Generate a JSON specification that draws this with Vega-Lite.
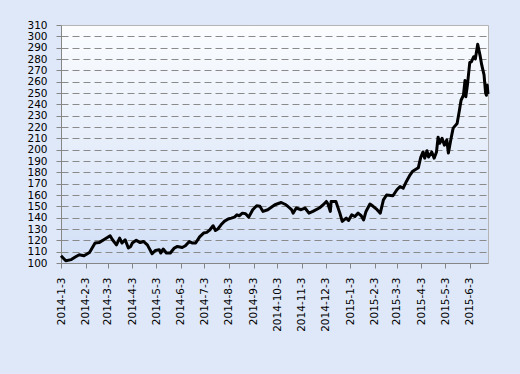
{
  "$schema": "https://vega.github.io/schema/vega-lite/v6.json",
  "width": 427,
  "height": 238,
  "autosize": "none",
  "padding": {"left": 61, "top": 25, "right": 32, "bottom": 111},
  "background": "#dfe8f9",
  "config": {
    "view": {
      "stroke": "#b4b4b4",
      "strokeWidth": 1,
      "fill": {"gradient": "linear", "x1": 0, "y1": 0, "x2": 0, "y2": 1, "stops": [{"offset": 0, "color": "#fbfdff"}, {"offset": 1, "color": "#d2dff6"}]}
    },
    "font": "DejaVu Sans"
  },
  "data": {
    "values": [
      {"d": "2014-01-03", "v": 106.4}, {"d": "2014-01-09", "v": 102}, {"d": "2014-01-16", "v": 103}, {"d": "2014-01-21", "v": 105.3},
      {"d": "2014-01-26", "v": 107.3}, {"d": "2014-02-01", "v": 106.4}, {"d": "2014-02-08", "v": 109.3}, {"d": "2014-02-15", "v": 117.6},
      {"d": "2014-02-20", "v": 118}, {"d": "2014-02-27", "v": 121}, {"d": "2014-03-06", "v": 124}, {"d": "2014-03-09", "v": 120.5},
      {"d": "2014-03-14", "v": 116}, {"d": "2014-03-18", "v": 122}, {"d": "2014-03-21", "v": 117.6}, {"d": "2014-03-25", "v": 120.5},
      {"d": "2014-03-29", "v": 113.2}, {"d": "2014-04-01", "v": 114.6}, {"d": "2014-04-03", "v": 117.6}, {"d": "2014-04-08", "v": 120},
      {"d": "2014-04-13", "v": 118}, {"d": "2014-04-17", "v": 119}, {"d": "2014-04-22", "v": 116}, {"d": "2014-04-28", "v": 108.2},
      {"d": "2014-05-02", "v": 111}, {"d": "2014-05-07", "v": 111.7}, {"d": "2014-05-09", "v": 108.8}, {"d": "2014-05-12", "v": 112.3},
      {"d": "2014-05-16", "v": 108.8}, {"d": "2014-05-21", "v": 108.8}, {"d": "2014-05-26", "v": 113.2}, {"d": "2014-05-30", "v": 114.6},
      {"d": "2014-06-05", "v": 113.7}, {"d": "2014-06-09", "v": 115.2}, {"d": "2014-06-14", "v": 119}, {"d": "2014-06-18", "v": 117.6},
      {"d": "2014-06-22", "v": 117.6}, {"d": "2014-06-27", "v": 123}, {"d": "2014-07-02", "v": 126.4}, {"d": "2014-07-06", "v": 127},
      {"d": "2014-07-10", "v": 129.3}, {"d": "2014-07-14", "v": 132.9}, {"d": "2014-07-17", "v": 128.7}, {"d": "2014-07-20", "v": 130},
      {"d": "2014-07-24", "v": 133.7}, {"d": "2014-07-28", "v": 136.7}, {"d": "2014-08-02", "v": 138.8}, {"d": "2014-08-06", "v": 139.6},
      {"d": "2014-08-10", "v": 140.5}, {"d": "2014-08-13", "v": 142.5}, {"d": "2014-08-16", "v": 141.7}, {"d": "2014-08-20", "v": 144},
      {"d": "2014-08-24", "v": 143.4}, {"d": "2014-08-28", "v": 140.5}, {"d": "2014-09-02", "v": 147}, {"d": "2014-09-07", "v": 150.5},
      {"d": "2014-09-11", "v": 150}, {"d": "2014-09-15", "v": 145.5}, {"d": "2014-09-21", "v": 147}, {"d": "2014-09-30", "v": 151.4},
      {"d": "2014-10-08", "v": 153.4}, {"d": "2014-10-14", "v": 151.4}, {"d": "2014-10-21", "v": 147}, {"d": "2014-10-23", "v": 144},
      {"d": "2014-10-27", "v": 148.5}, {"d": "2014-11-02", "v": 147}, {"d": "2014-11-07", "v": 148.5}, {"d": "2014-11-12", "v": 144},
      {"d": "2014-11-17", "v": 145.5}, {"d": "2014-11-25", "v": 148.5}, {"d": "2014-11-30", "v": 151.4}, {"d": "2014-12-04", "v": 154.3},
      {"d": "2014-12-06", "v": 152}, {"d": "2014-12-09", "v": 145.5}, {"d": "2014-12-10", "v": 154.3}, {"d": "2014-12-16", "v": 154.3},
      {"d": "2014-12-21", "v": 144}, {"d": "2014-12-24", "v": 136.7}, {"d": "2014-12-29", "v": 139.6}, {"d": "2015-01-01", "v": 137.5},
      {"d": "2015-01-05", "v": 142.5}, {"d": "2015-01-09", "v": 141}, {"d": "2015-01-13", "v": 144}, {"d": "2015-01-17", "v": 141.7},
      {"d": "2015-01-20", "v": 138}, {"d": "2015-01-23", "v": 145.5}, {"d": "2015-01-28", "v": 152}, {"d": "2015-02-01", "v": 150},
      {"d": "2015-02-06", "v": 147}, {"d": "2015-02-10", "v": 144}, {"d": "2015-02-14", "v": 155.7}, {"d": "2015-02-18", "v": 160},
      {"d": "2015-02-26", "v": 159.3}, {"d": "2015-03-03", "v": 164.6}, {"d": "2015-03-07", "v": 167.5}, {"d": "2015-03-11", "v": 166},
      {"d": "2015-03-15", "v": 172}, {"d": "2015-03-19", "v": 177}, {"d": "2015-03-23", "v": 181}, {"d": "2015-03-30", "v": 184},
      {"d": "2015-04-02", "v": 193}, {"d": "2015-04-05", "v": 198}, {"d": "2015-04-07", "v": 192.5}, {"d": "2015-04-10", "v": 199},
      {"d": "2015-04-12", "v": 193.5}, {"d": "2015-04-16", "v": 198}, {"d": "2015-04-19", "v": 192.5}, {"d": "2015-04-22", "v": 198},
      {"d": "2015-04-24", "v": 211}, {"d": "2015-04-26", "v": 205.6}, {"d": "2015-04-29", "v": 210}, {"d": "2015-05-02", "v": 204},
      {"d": "2015-05-05", "v": 208.6}, {"d": "2015-05-07", "v": 197}, {"d": "2015-05-10", "v": 208.6}, {"d": "2015-05-13", "v": 219},
      {"d": "2015-05-18", "v": 223}, {"d": "2015-05-21", "v": 235}, {"d": "2015-05-23", "v": 243.6}, {"d": "2015-05-26", "v": 248},
      {"d": "2015-05-28", "v": 261}, {"d": "2015-05-29", "v": 246.7}, {"d": "2015-05-31", "v": 257}, {"d": "2015-06-03", "v": 277},
      {"d": "2015-06-05", "v": 277.5}, {"d": "2015-06-08", "v": 282}, {"d": "2015-06-10", "v": 280}, {"d": "2015-06-13", "v": 293},
      {"d": "2015-06-16", "v": 283}, {"d": "2015-06-18", "v": 275}, {"d": "2015-06-21", "v": 266}, {"d": "2015-06-23", "v": 250},
      {"d": "2015-06-24", "v": 248}, {"d": "2015-06-25", "v": 257}, {"d": "2015-06-26", "v": 249}
    ]
  },
  "mark": {"type": "line", "color": "#000000", "strokeWidth": 3, "strokeJoin": "round"},
  "encoding": {
    "x": {
      "field": "d",
      "type": "temporal",
      "scale": {"type": "utc", "domain": [{"year": 2014, "month": 1, "date": 3, "utc": true}, {"year": 2015, "month": 6, "date": 26, "utc": true}]},
      "axis": {
        "title": null,
        "grid": false,
        "format": "%Y-%-m-%-d",
        "labelAngle": -90,
        "labelFontSize": 10.5,
        "labelColor": "#000000",
        "labelPadding": 9,
        "tickSize": 5,
        "tickColor": "#868686",
        "domainColor": "#868686",
        "labelOverlap": false,
        "values": [
          {"year": 2014, "month": 1, "date": 3, "utc": true}, {"year": 2014, "month": 2, "date": 3, "utc": true},
          {"year": 2014, "month": 3, "date": 3, "utc": true}, {"year": 2014, "month": 4, "date": 3, "utc": true},
          {"year": 2014, "month": 5, "date": 3, "utc": true}, {"year": 2014, "month": 6, "date": 3, "utc": true},
          {"year": 2014, "month": 7, "date": 3, "utc": true}, {"year": 2014, "month": 8, "date": 3, "utc": true},
          {"year": 2014, "month": 9, "date": 3, "utc": true}, {"year": 2014, "month": 10, "date": 3, "utc": true},
          {"year": 2014, "month": 11, "date": 3, "utc": true}, {"year": 2014, "month": 12, "date": 3, "utc": true},
          {"year": 2015, "month": 1, "date": 3, "utc": true}, {"year": 2015, "month": 2, "date": 3, "utc": true},
          {"year": 2015, "month": 3, "date": 3, "utc": true}, {"year": 2015, "month": 4, "date": 3, "utc": true},
          {"year": 2015, "month": 5, "date": 3, "utc": true}, {"year": 2015, "month": 6, "date": 3, "utc": true}
        ]
      }
    },
    "y": {
      "field": "v",
      "type": "quantitative",
      "scale": {"domain": [100, 310], "nice": false, "zero": false},
      "axis": {
        "title": null,
        "values": [100, 110, 120, 130, 140, 150, 160, 170, 180, 190, 200, 210, 220, 230, 240, 250, 260, 270, 280, 290, 300, 310],
        "labelFontSize": 10.5,
        "labelColor": "#000000",
        "labelPadding": 9,
        "tickSize": 5,
        "tickColor": "#868686",
        "domainColor": "#868686",
        "labelOverlap": false,
        "grid": true,
        "gridColor": "#8a8a8a",
        "gridDash": [7, 4],
        "gridOpacity": {"condition": {"test": "datum.value == 100 || datum.value == 310", "value": 0}, "value": 1}
      }
    }
  }
}
